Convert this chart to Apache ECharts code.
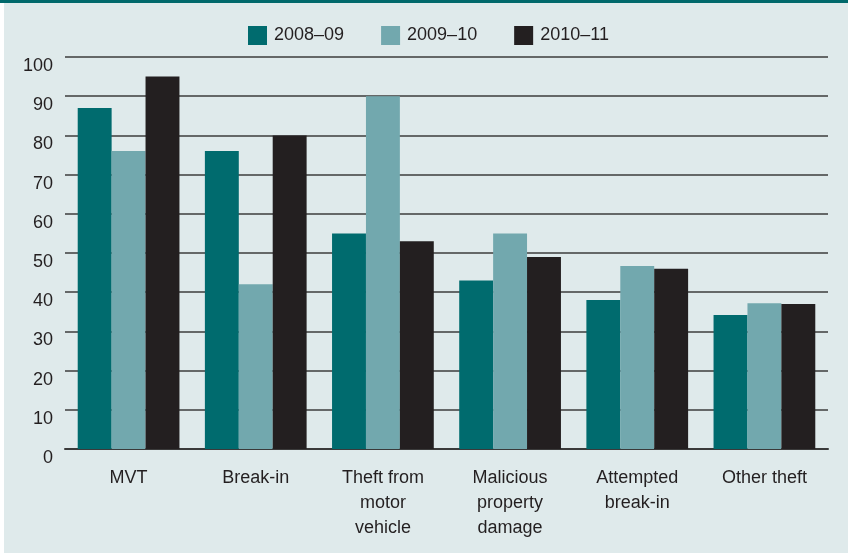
<!DOCTYPE html>
<html>
<head>
<meta charset="utf-8">
<script src="https://cdn.jsdelivr.net/npm/echarts@6/dist/echarts.min.js"></script>
<style>
  html, body { margin: 0; padding: 0; background: #ffffff; }
  #chart { width: 848px; height: 553px; }
</style>
</head>
<body>
<div id="chart"></div>
<script>
const categories = ['MVT', 'Break-in', 'Theft from\nmotor\nvehicle', 'Malicious\nproperty\ndamage', 'Attempted\nbreak-in', 'Other theft'];
const seriesNames = ['2008–09', '2009–10', '2010–11'];
const values2008 = [87, 76, 55, 43, 38, 34.2];
const values2009 = [76, 42, 90, 55, 46.7, 37.2];
const values2010 = [95, 80, 53, 49, 46, 37];
const yTicks = [0, 10, 20, 30, 40, 50, 60, 70, 80, 90, 100];

const colors = ['#006b6e', '#72a8ae', '#231f20'];
const FONT = '"Liberation Sans", Arial, sans-serif';

const chart = echarts.init(document.getElementById('chart'));
chart.setOption({
  animation: false,
  backgroundColor: '#ffffff',
  graphic: [
    { type: 'rect', left: 4, top: 0, shape: { width: 844, height: 553 }, style: { fill: '#dfeaeb' }, z: -10 },
    { type: 'rect', left: 0, top: 0, shape: { width: 848, height: 3 }, style: { fill: '#00696b' }, z: -9 }
  ],
  legend: {
    data: seriesNames,
    top: 21,
    left: 243,
    itemWidth: 19,
    itemHeight: 19,
    itemGap: 37,
    icon: 'rect',
    textStyle: { fontFamily: FONT, fontSize: 18, color: '#231f20', padding: [0, 0, 0, 2] }
  },
  grid: { left: 65, right: 20, top: 57, bottom: 104, containLabel: false },
  xAxis: {
    type: 'category',
    data: categories,
    axisLine: { show: true, lineStyle: { color: '#3a3a3a', width: 2 } },
    axisTick: { show: false },
    axisLabel: { fontFamily: FONT, fontSize: 18, color: '#231f20', lineHeight: 25, margin: 17, interval: 0 }
  },
  yAxis: {
    type: 'value',
    min: yTicks[0],
    max: yTicks[yTicks.length - 1],
    interval: 10,
    axisLine: { show: false },
    axisTick: { show: false },
    axisLabel: { fontFamily: FONT, fontSize: 18, color: '#231f20', margin: 12, verticalAlign: 'top', lineHeight: 18, padding: [0, 0, 0, 0] },
    splitLine: { show: true, lineStyle: { color: '#3c3c3c', width: 1.5 } }
  },
  series: [
    { name: seriesNames[0], type: 'bar', data: values2008, itemStyle: { color: colors[0] }, barGap: '0%', barCategoryGap: '20%' },
    { name: seriesNames[1], type: 'bar', data: values2009, itemStyle: { color: colors[1] }, barGap: '0%', barCategoryGap: '20%' },
    { name: seriesNames[2], type: 'bar', data: values2010, itemStyle: { color: colors[2] }, barGap: '0%', barCategoryGap: '20%' }
  ]
});
</script>
</body>
</html>
